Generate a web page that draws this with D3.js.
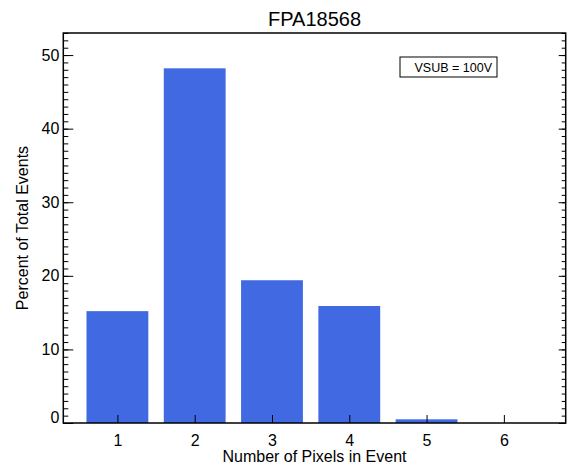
<!DOCTYPE html>
<html>
<head>
<meta charset="utf-8">
<script src="https://cdn.jsdelivr.net/npm/d3@7"></script>
<style>
  body { margin: 0; background: #fff; }
  svg { display: block; font-family: "Liberation Sans", Arial, Helvetica, sans-serif; }
</style>
</head>
<body>
<svg id="chart"></svg>
<script>
// data
const pixels = [1, 2, 3, 4, 5, 6];
const percent = [15.2, 48.2, 19.4, 15.9, 0.5, 0.0];
const yMajor = [0, 10, 20, 30, 40, 50];
const title = "FPA18568";
const note = "VSUB = 100V";

const w = 569, h = 468;
const mLeft = 63.3, mRight = 565.7, mTop = 33, mBottom = 423;

const svg = d3.select('#chart')
  .attr('width', w)
  .attr('height', h);

const x = d3.scaleLinear().domain([0.3, 6.8]).range([mLeft, mRight]);
const y = d3.scaleLinear().domain([0, 53]).range([mBottom, mTop]);

const barW = x(0.8) - x(0);

// bars
svg.selectAll('rect.bar')
  .data(pixels)
  .enter().append('rect')
  .attr('class', 'bar')
  .attr('x', (d, i) => x(d) - barW / 2)
  .attr('y', (d, i) => y(percent[i]))
  .attr('width', barW)
  .attr('height', (d, i) => y(0) - y(percent[i]))
  .attr('fill', '#4169e1');

// minor y ticks (every 1)
const minor = d3.range(0, 54, 1);
svg.append('g')
  .attr('transform', `translate(${mLeft},0)`)
  .call(d3.axisLeft(y).tickValues(minor).tickSize(-5).tickFormat(''))
  .call(g => g.select('.domain').remove());
svg.append('g')
  .attr('transform', `translate(${mRight},0)`)
  .call(d3.axisRight(y).tickValues(minor).tickSize(-4).tickFormat(''))
  .call(g => g.select('.domain').remove());

// major y ticks
const yAx = svg.append('g')
  .attr('transform', `translate(${mLeft},0)`)
  .call(d3.axisLeft(y).tickValues(yMajor).tickSize(-10).tickPadding(4).tickFormat(d3.format('d')))
  .call(g => g.select('.domain').remove());
yAx.selectAll('text')
  .attr('font-size', 16)
  .attr('font-family', null)
  .attr('fill', '#000');
yAx.selectAll('.tick').filter(d => d === 0).select('text').attr('dy', '-0.05em');

svg.append('g')
  .attr('transform', `translate(${mRight},0)`)
  .call(d3.axisRight(y).tickValues(yMajor).tickSize(-7).tickFormat(''))
  .call(g => g.select('.domain').remove());

// x ticks
const xAx = svg.append('g')
  .attr('transform', `translate(0,${mBottom})`)
  .call(d3.axisBottom(x).tickValues(pixels).tickSize(-8).tickPadding(12).tickFormat(d3.format('d')))
  .call(g => g.select('.domain').remove());
xAx.selectAll('text')
  .attr('font-size', 16)
  .attr('font-family', null)
  .attr('fill', '#000');

svg.selectAll('.tick line').attr('stroke', '#000');

// frame
svg.append('rect')
  .attr('x', mLeft).attr('y', mTop)
  .attr('width', mRight - mLeft).attr('height', mBottom - mTop)
  .attr('fill', 'none')
  .attr('stroke', '#000')
  .attr('stroke-width', 1.5);

// title and axis labels
svg.append('text')
  .attr('x', (mLeft + mRight) / 2).attr('y', 26)
  .attr('text-anchor', 'middle')
  .style('font-size', '20px')
  .text(title);

svg.append('text')
  .attr('x', (mLeft + mRight) / 2).attr('y', 462)
  .attr('text-anchor', 'middle')
  .style('font-size', '16px')
  .text('Number of Pixels in Event');

svg.append('text')
  .attr('transform', `translate(28,${(mTop + mBottom) / 2}) rotate(-90)`)
  .attr('text-anchor', 'middle')
  .style('font-size', '16px')
  .text('Percent of Total Events');

// annotation box
svg.append('rect')
  .attr('x', 400).attr('y', 57)
  .attr('width', 97).attr('height', 20)
  .attr('fill', '#fff')
  .attr('stroke', '#000')
  .attr('stroke-width', 1);
svg.append('text')
  .attr('x', 492).attr('y', 72)
  .attr('text-anchor', 'end')
  .style('font-size', '12.5px')
  .text(note);
</script>
</body>
</html>
